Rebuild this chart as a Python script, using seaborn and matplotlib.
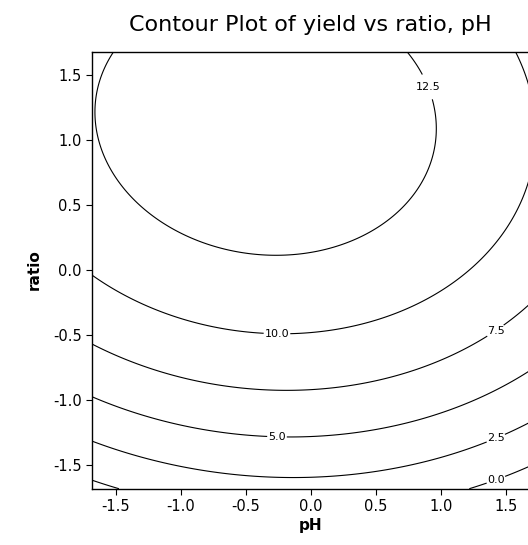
import numpy as np
import pandas as pd
import seaborn as sns
import matplotlib
matplotlib.use("Agg")
import matplotlib.pyplot as plt

# fitted response surface for yield (coded units)
terms = ['const', 'pH', 'ratio', 'pH^2', 'ratio^2', 'pH*ratio']
coefs = [12.05, -0.50, 3.52, -0.97, -1.55, -0.15]
levels = [0.0, 2.5, 5.0, 7.5, 10.0, 12.5]
axis_lim = [-1.682, 1.682]
ticks = [-1.5, -1.0, -0.5, 0.0, 0.5, 1.0, 1.5]

model = pd.Series(coefs, index=terms)

# grid over the design region
ph = np.linspace(axis_lim[0], axis_lim[1], 200)
ratio = np.linspace(axis_lim[0], axis_lim[1], 200)
X, Y = np.meshgrid(ph, ratio)
Z = (model['const'] + model['pH'] * X + model['ratio'] * Y
     + model['pH^2'] * X**2 + model['ratio^2'] * Y**2 + model['pH*ratio'] * X * Y)

sns.set_style("ticks")
plt.rcParams['font.family'] = ['DejaVu Sans']
plt.rcParams['text.color'] = 'black'
plt.rcParams['axes.labelcolor'] = 'black'

fig = plt.figure(figsize=(5.28, 5.45), dpi=100)
# right edge of the plot is cut off in the original, so the axes run past the figure
ax = fig.add_axes([0.1742, 0.1033, 0.8286, 0.8022])

cs = ax.contour(X, Y, Z, levels=levels, colors='black', linewidths=0.8)

# where the contour labels sit
label_pos = [(1.43, -1.63), (1.43, -1.31), (-0.26, -1.31),
             (1.43, -0.48), (-0.26, -0.52), (0.97, 1.44)]
lbls = ax.clabel(cs, fmt='%.1f', fontsize=8, inline=True, inline_spacing=1, manual=label_pos)
for t in lbls:
    t.set_rotation(0)

ax.set_xlim(axis_lim)
ax.set_ylim(axis_lim)
ax.set_xticks(ticks)
ax.set_yticks(ticks)
ax.set_xticklabels([f'{t:.1f}' for t in ticks])
ax.set_yticklabels([f'{t:.1f}' for t in ticks])
ax.tick_params(direction='out', length=4, width=0.8, labelsize=10.5, colors='black')
for s in ax.spines.values():
    s.set_linewidth(1.0)
    s.set_color('black')

ax.set_xlabel('pH', fontsize=11, fontweight='bold', labelpad=3)
ax.set_ylabel('ratio', fontsize=11, fontweight='bold', labelpad=8)
fig.suptitle('Contour Plot of yield vs ratio, pH', x=0.587, y=0.973, fontsize=16, color='black')

fig.savefig('out.png', dpi=100)
